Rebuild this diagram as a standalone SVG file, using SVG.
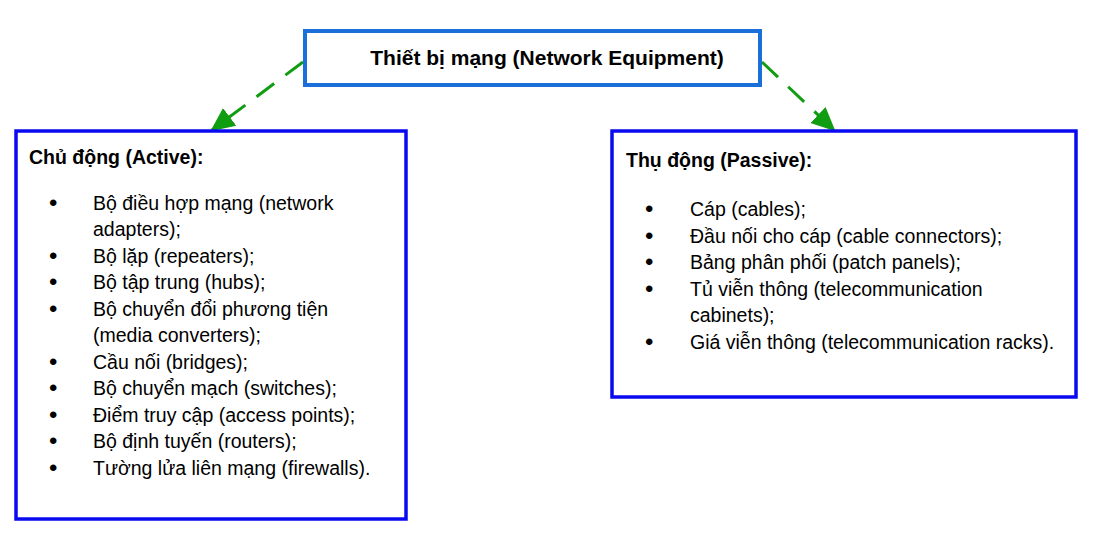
<svg xmlns="http://www.w3.org/2000/svg" width="1105" height="542" viewBox="0 0 1105 542">
<style>
text{font-family:"Liberation Sans",Arial,sans-serif;fill:#000}
.h{font-weight:bold;font-size:19.5px}
.t{font-size:19.5px}
.d{font-size:24px}
.box{fill:#fff;stroke:#0a0af0;stroke-width:3.5}
.top{fill:#fff;stroke:#1a6fd8;stroke-width:4}
.c{stroke:#119d11;stroke-width:3;stroke-dasharray:22,14;fill:none}
</style>
<defs>
<marker id="arr" viewBox="0 0 24 24" refX="22" refY="12" markerWidth="24" markerHeight="24" markerUnits="userSpaceOnUse" orient="auto">
<path d="M0,1 L24,12 L0,23 z" fill="#119d11"/>
</marker>
</defs>
<g id="connectors">
<path class="c" d="M303,62 L212,130" marker-end="url(#arr)"/>
<path class="c" d="M762,62 L834,130" marker-end="url(#arr)"/>
</g>
<g id="node-root">
<rect class="top" x="305" y="31" width="455" height="54"/>
<text x="547" y="65" text-anchor="middle" style="font-weight:bold;font-size:21px">Thiết bị mạng (Network Equipment)</text>
</g>
<g id="node-active">
<rect class="box" x="16" y="131" width="390" height="388"/>
<text class="h" x="29" y="164">Chủ động (Active):</text>
<text class="d" x="49" y="211">•</text>
<text class="t" x="93" y="210">Bộ điều hợp mạng (network</text>
<text class="t" x="93" y="236">adapters);</text>
<text class="d" x="49" y="264">•</text>
<text class="t" x="93" y="263">Bộ lặp (repeaters);</text>
<text class="d" x="49" y="290">•</text>
<text class="t" x="93" y="289">Bộ tập trung (hubs);</text>
<text class="d" x="49" y="317">•</text>
<text class="t" x="93" y="316">Bộ chuyển đổi phương tiện</text>
<text class="t" x="93" y="342">(media converters);</text>
<text class="d" x="49" y="370">•</text>
<text class="t" x="93" y="369">Cầu nối (bridges);</text>
<text class="d" x="49" y="396">•</text>
<text class="t" x="93" y="395">Bộ chuyển mạch (switches);</text>
<text class="d" x="49" y="423">•</text>
<text class="t" x="93" y="422">Điểm truy cập (access points);</text>
<text class="d" x="49" y="449">•</text>
<text class="t" x="93" y="448">Bộ định tuyến (routers);</text>
<text class="d" x="49" y="476">•</text>
<text class="t" x="93" y="475">Tường lửa liên mạng (firewalls).</text>
</g>
<g id="node-passive">
<rect class="box" x="612" y="131" width="464" height="266"/>
<text class="h" x="626" y="167">Thụ động (Passive):</text>
<text class="d" x="645" y="217">•</text>
<text class="t" x="690" y="216">Cáp (cables);</text>
<text class="d" x="645" y="244">•</text>
<text class="t" x="690" y="243">Đầu nối cho cáp (cable connectors);</text>
<text class="d" x="645" y="270">•</text>
<text class="t" x="690" y="269">Bảng phân phối (patch panels);</text>
<text class="d" x="645" y="297">•</text>
<text class="t" x="690" y="296">Tủ viễn thông (telecommunication</text>
<text class="t" x="690" y="322">cabinets);</text>
<text class="d" x="645" y="350">•</text>
<text class="t" x="690" y="349">Giá viễn thông (telecommunication racks).</text>
</g>
</svg>
